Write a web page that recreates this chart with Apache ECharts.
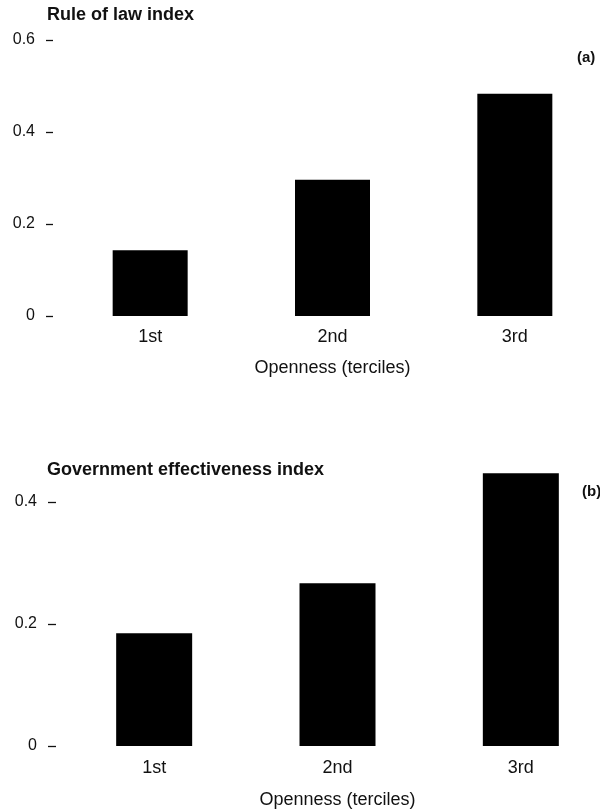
<!DOCTYPE html>
<html>
<head>
<meta charset="utf-8">
<script src="https://cdn.jsdelivr.net/npm/echarts@6/dist/echarts.min.js"></script>
<style>
  html, body { margin: 0; padding: 0; background: #fff; }
  #chart { width: 600px; height: 809px; }
</style>
</head>
<body>
<div id="chart"></div>
<script>
// Openness terciles
const categories = ['1st', '2nd', '3rd'];
// (a) Rule of law index by openness tercile
const ruleOfLaw = [0.143, 0.296, 0.483];
// (b) Government effectiveness index by openness tercile
const govEffectiveness = [0.185, 0.267, 0.447];
// tick labels
const ticksA = [0, 0.2, 0.4, 0.6];
const ticksB = [0, 0.2, 0.4];

const FONT = '"Liberation Sans", Arial, Helvetica, sans-serif';
const INK = '#111';

function fmt(v) { return v === 0 ? '0' : String(v); }

const chart = echarts.init(document.getElementById('chart'), null, { renderer: 'canvas' });

function yAxisFor(gridIndex, max, ticks, offset, tickLen, margin) {
  return {
    type: 'value', gridIndex, min: 0, max,
    offset,
    axisLine: { show: false },
    splitLine: { show: false },
    axisTick: { show: true, length: tickLen, customValues: ticks,
      lineStyle: { color: INK, width: 1.3 } },
    axisLabel: { show: true, customValues: ticks, margin,
      formatter: fmt, color: INK, fontFamily: FONT, fontSize: 16 }
  };
}

function xAxisFor(gridIndex, labelMargin, nameGap) {
  return {
    type: 'category', gridIndex, data: categories,
    axisLine: { show: false }, axisTick: { show: false },
    axisLabel: { color: INK, fontFamily: FONT, fontSize: 18, margin: labelMargin },
    name: 'Openness (terciles)', nameLocation: 'middle', nameGap,
    nameTextStyle: { color: INK, fontFamily: FONT, fontSize: 18 }
  };
}

const titleStyle = { fontFamily: FONT, fontSize: 18, fontWeight: 'bold', color: INK };
const panelStyle = { fontFamily: FONT, fontSize: 15, fontWeight: 'bold', color: INK };

chart.setOption({
  animation: false,
  backgroundColor: '#fff',
  title: [
    { text: 'Rule of law index', left: 47, top: 6, padding: 0, textStyle: titleStyle },
    { text: '(a)', left: 577, top: 50, padding: 0, textStyle: panelStyle },
    { text: 'Government effectiveness index', left: 47, top: 461, padding: 0, textStyle: titleStyle },
    { text: '(b)', left: 582, top: 484, padding: 0, textStyle: panelStyle }
  ],
  grid: [
    { left: 59, width: 547, top: 40, height: 276, containLabel: false, outerBoundsMode: 'none' },
    { left: 62.5, width: 550, top: 465.4, height: 280.6, containLabel: false, outerBoundsMode: 'none' }
  ],
  xAxis: [ xAxisFor(0, 12, 43), xAxisFor(1, 13, 45) ],
  yAxis: [
    yAxisFor(0, 0.6, ticksA, 6, 7, 18),
    yAxisFor(1, 0.46, ticksB, 6.5, 8, 19)
  ],
  series: [
    { type: 'bar', xAxisIndex: 0, yAxisIndex: 0, data: ruleOfLaw,
      barWidth: 75, itemStyle: { color: '#000' } },
    { type: 'bar', xAxisIndex: 1, yAxisIndex: 1, data: govEffectiveness,
      barWidth: 76, itemStyle: { color: '#000' } }
  ]
});
</script>
</body>
</html>
